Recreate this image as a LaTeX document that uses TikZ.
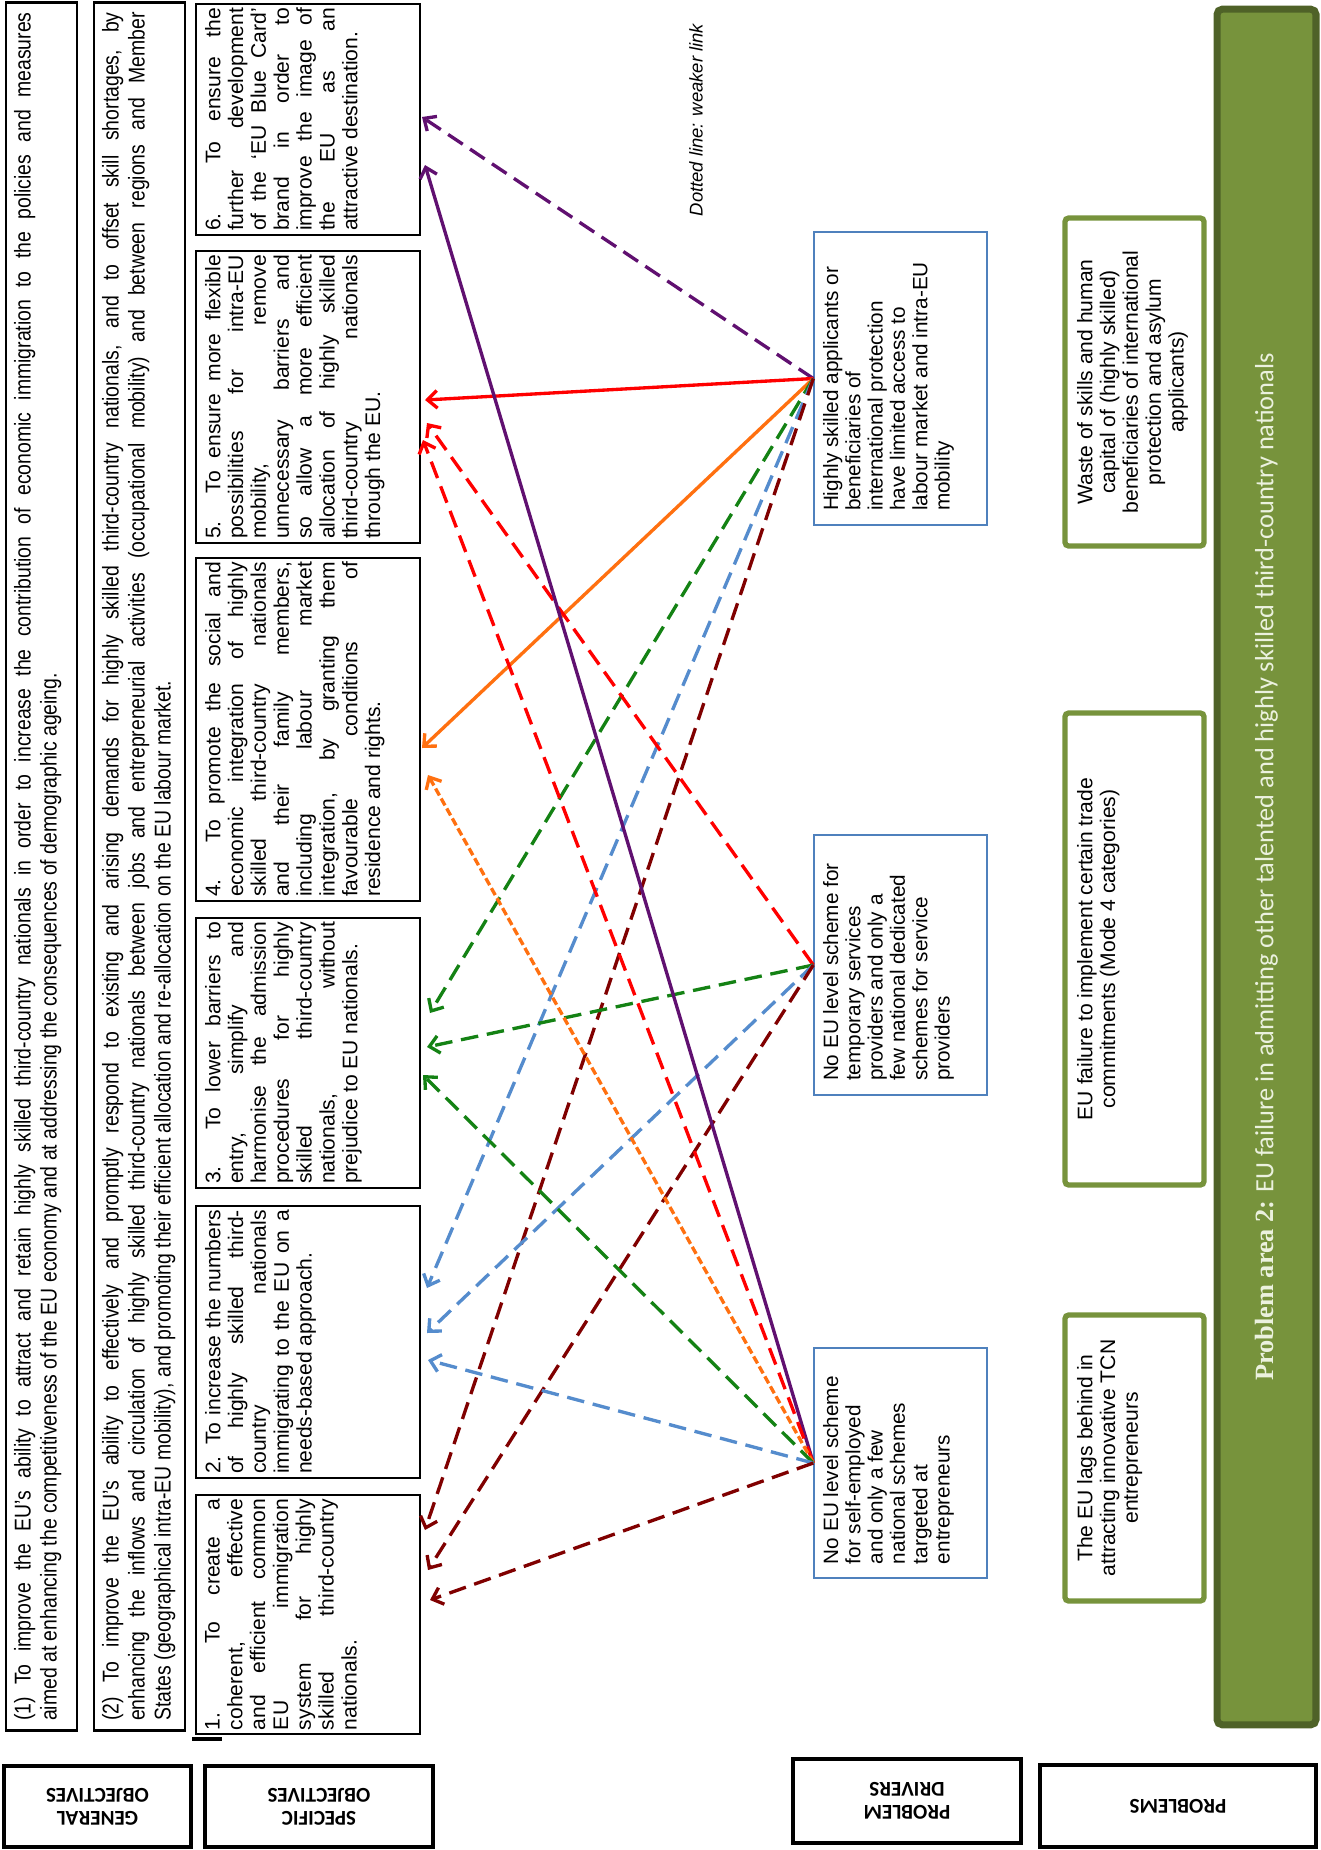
\documentclass[tikz,border=0pt]{standalone}
\usepackage{fontspec}
\setmainfont{Liberation Sans}
\newfontfamily\narrowfont{Liberation Sans}[FakeStretch=0.85]
\newfontfamily\calfont{Carlito}
\newfontfamily\serifbar{Liberation Serif}
\usetikzlibrary{arrows.meta}

\definecolor{drvblue}{RGB}{79,129,189}
\definecolor{probgreen}{RGB}{119,147,60}
\definecolor{bardark}{RGB}{79,98,40}
\definecolor{bartext}{RGB}{235,241,222}
\definecolor{arrpurple}{RGB}{96,16,112}
\definecolor{arrred}{RGB}{255,0,0}
\definecolor{arrorange}{RGB}{255,112,16}
\definecolor{arrgreen}{RGB}{20,130,20}
\definecolor{arrblue}{RGB}{85,140,205}
\definecolor{arrmaroon}{RGB}{128,0,0}

% text block of fixed size, top aligned
\newcommand\boxtext[3]{\begin{minipage}[t][#2][t]{#1}#3\end{minipage}}
\tolerance=9999 \hbadness=10000 \vbadness=10000
\hyphenpenalty=10000 \exhyphenpenalty=10000

\begin{document}
\begin{tikzpicture}[x=0.02cm, y=-0.02cm,
  genbox/.style={draw, line width=1.6pt, rotate=90, inner xsep=0.2cm, inner ysep=0.16cm, font=\narrowfont\fontsize{13}{14.8}\selectfont},
  objbox/.style={draw, line width=1.6pt, rotate=90, inner xsep=0.08cm, inner ysep=0.18cm, font=\fontsize{12}{13}\selectfont},
  drvbox/.style={draw=drvblue, line width=0.8pt, rotate=90, inner xsep=0.28cm, inner ysep=0.18cm, font=\fontsize{11.8}{12.7}\selectfont},
  probbox/.style={draw=probgreen, line width=3pt, rounded corners=2pt, rotate=90, inner xsep=0.16cm, inner ysep=0.24cm, font=\fontsize{12}{13}\selectfont},
  headbox/.style={draw, line width=2.2pt, rotate=180, align=center, inner sep=0pt, font=\calfont\bfseries\fontsize{12}{13}\selectfont},
  link/.style={line width=1.9pt, -{Straight Barb[length=5.5pt,width=10pt]}},
  weak/.style={link, dash pattern=on 10pt off 5pt},
  weaker/.style={link, dash pattern=on 4.5pt off 2pt}]
\useasboundingbox (0,0) rectangle (1320,1850);

% general objectives
\node[genbox] (g1) at (41.5,866.5) {\boxtext{34.18cm}{1.1cm}{(1) To improve the EU’s ability to attract and retain highly skilled third-country nationals in order to increase the contribution of economic immigration to the policies and measures\linebreak aimed at enhancing the competitiveness of the EU economy and at addressing the consequences of demographic ageing.}};
\node[genbox] (g2) at (139.5,866.5) {\boxtext{34.18cm}{1.5cm}{(2) To improve the EU’s ability to effectively and promptly respond to existing and arising demands for highly skilled third-country nationals, and to offset skill shortages, by\linebreak enhancing the inflows and circulation of highly skilled third-country nationals between jobs and entrepreneurial activities (occupational mobility) and between regions and Member\linebreak States (geographical intra-EU mobility), and promoting their efficient allocation and re-allocation on the EU labour market.}};

% specific objectives
\node[objbox] (o6) at (308,119.5) {\boxtext{4.46cm}{4.12cm}{6. To ensure the\linebreak further development\linebreak of the ‘EU Blue Card’\linebreak brand in order to\linebreak improve the image of\linebreak the EU as an\linebreak attractive destination.}};
\node[objbox] (o5) at (308,397) {\boxtext{5.68cm}{4.12cm}{5. To ensure more flexible\linebreak possibilities for intra-EU\linebreak mobility, remove\linebreak unnecessary barriers and\linebreak so allow a more efficient\linebreak allocation of highly skilled\linebreak third-country nationals\linebreak through the EU.}};
\node[objbox] (o4) at (308,729.5) {\boxtext{6.70cm}{4.12cm}{4. To promote the social and\linebreak economic integration of highly\linebreak skilled third-country nationals\linebreak and their family members,\linebreak including labour market\linebreak integration, by granting them\linebreak favourable conditions of\linebreak residence and rights.}};
\node[objbox] (o3) at (308,1053) {\boxtext{5.24cm}{4.12cm}{3. To lower barriers to\linebreak entry, simplify and\linebreak harmonise the admission\linebreak procedures for highly\linebreak skilled third-country\linebreak nationals, without\linebreak prejudice to EU nationals.}};
\node[objbox] (o2) at (308,1342) {\boxtext{5.28cm}{4.12cm}{2. To increase the numbers\linebreak of highly skilled third-\linebreak country nationals\linebreak immigrating to the EU on a\linebreak needs-based approach.}};
\node[objbox] (o1) at (308,1614.5) {\boxtext{4.62cm}{4.12cm}{1. To create a\linebreak coherent, effective\linebreak and efficient common\linebreak EU immigration\linebreak system for highly\linebreak skilled third-country\linebreak nationals.}};
\draw[line width=2pt] (192,1739) -- (222,1739);

% problem drivers
\node[drvbox] (dA) at (900.5,378.5) {\boxtext{5.30cm}{3.10cm}{\raggedright Highly skilled applicants or\\ beneficiaries of\\ international protection\\ have limited access to\\ labour market and intra-EU\\ mobility}};
\node[drvbox] (dB) at (900.5,965) {\boxtext{4.64cm}{3.10cm}{\raggedright No EU level scheme for\\ temporary services\\ providers and only a\\ few national dedicated\\ schemes for service\\ providers}};
\node[drvbox] (dC) at (900.5,1463) {\boxtext{4.04cm}{3.10cm}{\raggedright No EU level scheme\\ for self-employed\\ and only a few\\ national schemes\\ targeted at\\ entrepreneurs}};

% problems
\node[probbox] (p1) at (1134.5,382) {\boxtext{6.24cm}{2.30cm}{\centering Waste of skills and human\\ capital of (highly skilled)\\ beneficiaries of international\\ protection and asylum\\ applicants)}};
\node[probbox] (p2) at (1134.5,949) {\boxtext{9.12cm}{2.30cm}{\centering EU failure to implement certain trade\\ commitments (Mode 4 categories)}};
\node[probbox] (p3) at (1134.5,1458) {\boxtext{5.40cm}{2.30cm}{\centering The EU lags behind in\\ attracting innovative TCN\\ entrepreneurs}};

\node[draw=bardark, fill=probgreen, line width=4pt, rounded corners=3pt, rotate=90, minimum width=34.32cm, minimum height=1.98cm, inner sep=0pt, text=bartext, font=\calfont\fontsize{15}{18}\selectfont] (area) at (1266.5,867) {{\serifbar\bfseries Problem area 2:} EU failure in admitting other talented and highly skilled third-country nationals};

\node[rotate=90, font=\itshape\fontsize{10.5}{12}\selectfont] (note) at (696,120) {Dotted line: weaker link};

% column heads
\node[headbox, minimum width=3.74cm, minimum height=1.62cm] (hGen) at (97.5,1806.5) {GENERAL\\OBJECTIVES};
\node[headbox, minimum width=4.56cm, minimum height=1.62cm] (hSpec) at (319,1806.5) {SPECIFIC\\OBJECTIVES};
\node[headbox, minimum width=4.56cm, minimum height=1.68cm] (hDrv) at (907,1801) {PROBLEM\\DRIVERS};
\node[headbox, minimum width=5.52cm, minimum height=1.64cm] (hProb) at (1178,1806) {PROBLEMS};

% arrow ends on the objectives
\coordinate (o6A) at (422,117);
\coordinate (o6C) at (425,165);
\coordinate (o5A) at (425,400);
\coordinate (o5B) at (427,423);
\coordinate (o5C) at (423,440);
\coordinate (o4A) at (422,748);
\coordinate (o4C) at (428,775);
\coordinate (o3A) at (430,1013);
\coordinate (o3B) at (427,1047);
\coordinate (o3C) at (423,1075);
\coordinate (o2A) at (427,1288);
\coordinate (o2B) at (427,1333);
\coordinate (o2C) at (428,1360);
\coordinate (o1A) at (425,1530);
\coordinate (o1B) at (428,1570);
\coordinate (o1C) at (430,1600);

% links from the first driver
\draw[weak, arrpurple] (dA.north) -- (o6A);
\draw[link, arrred] (dA.north) -- (o5A);
\draw[link, arrorange] (dA.north) -- (o4A);
\draw[weak, arrgreen] (dA.north) -- (o3A);
\draw[weak, arrblue] (dA.north) -- (o2A);
\draw[weak, arrmaroon] (dA.north) -- (o1A);

% links from the second driver
\draw[weak, arrred] (dB.north) -- (o5B);
\draw[weak, arrgreen] (dB.north) -- (o3B);
\draw[weak, arrblue] (dB.north) -- (o2B);
\draw[weak, arrmaroon] (dB.north) -- (o1B);

% links from the third driver
\draw[link, arrpurple] (dC.north) -- (o6C);
\draw[weak, arrred] (dC.north) -- (o5C);
\draw[weaker, arrorange] (dC.north) -- (o4C);
\draw[weak, arrgreen] (dC.north) -- (o3C);
\draw[weak, arrblue] (dC.north) -- (o2C);
\draw[weak, arrmaroon] (dC.north) -- (o1C);
\end{tikzpicture}
\end{document}
